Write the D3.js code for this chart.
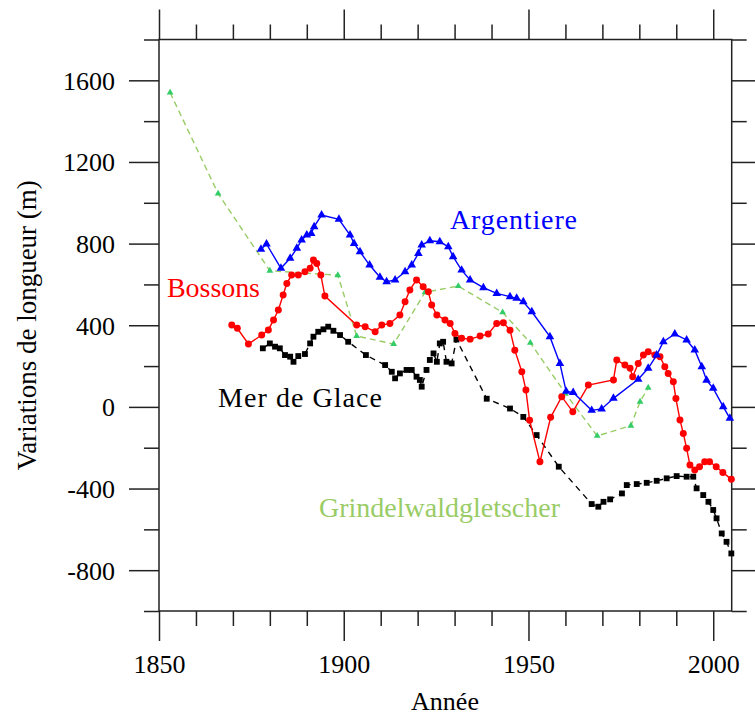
<!DOCTYPE html>
<html>
<head>
<meta charset="utf-8">
<script src="https://cdn.jsdelivr.net/npm/d3@7"></script>
<style>
  html, body { margin: 0; padding: 0; background: #fff; }
  svg { display: block; }
  text { font-family: "Liberation Serif", "Times New Roman", Times, serif; }
</style>
</head>
<body>
<svg id="chart" width="755" height="718"></svg>
<script>
// ---- Data ----
const argentiereYears = [1877.6,1879.1,1883,1885.5,1887.3,1888.6,1890,1891.2,1892,1894,1898.7,1901.7,1902.8,1904.4,1907,1909.8,1911.6,1913.9,1916.6,1918.4,1920.2,1921.1,1923.3,1926,1928.3,1929.6,1931.9,1934.2,1937.8,1941.4,1945,1946.8,1948.6,1950.9,1955.8,1958.5,1960.2,1962.1,1967.1,1969.8,1973,1979.7,1982.4,1984.7,1986.5,1989.6,1992.8,1995,1996.9,1998.2,2000,2002.7,2004.5];
const argentiereValues = [772,798,679,728,777,818,842,850,883,940,919,842,801,760,695,635,613,622,662,695,752,793,814,809,785,736,670,622,584,556,540,532,515,466,344,213,76,71,-17,-10,42,135,189,254,319,357,328,279,197,131,91,1,-56];

const bossonsYears = [1869.7,1871.2,1874.2,1877.8,1879.6,1881,1882.3,1883.6,1884.6,1885.9,1887.7,1889.5,1890.9,1891.8,1892.7,1893.8,1894.9,1903.5,1905.8,1908.5,1910.3,1912.5,1915.2,1916.6,1917.9,1919.7,1921.5,1922.9,1923.8,1925.2,1927.4,1928.8,1930.1,1931.9,1934.2,1936.9,1939.1,1941.4,1943.2,1945,1946.3,1948.2,1949.3,1950.3,1953.1,1956,1959,1962,1966.2,1973,1973.9,1976.1,1977.5,1978.2,1979.7,1981.1,1982.4,1984.2,1985.6,1986.9,1987.8,1989.2,1989.9,1991,1991.9,1992.8,1993.7,1995,1996.3,1997.7,1999,2000.8,2002.6,2004.9];
const bossonsValues = [401,385,308,352,377,426,475,548,605,646,646,662,679,720,703,646,543,401,393,368,401,409,450,515,573,622,589,564,499,450,426,409,360,336,332,347,357,409,412,376,278,172,83,-65,-269,-51,50,-24,107,132,230,205,189,148,213,254,270,254,246,197,164,123,41,-64,-130,-203,-285,-309,-293,-269,-269,-293,-321,-355];

const merDeGlaceYears = [1878.1,1880,1881.4,1882.7,1884.1,1885.5,1886.4,1887.7,1889.5,1890.9,1891.8,1893.1,1894.5,1895.8,1897.2,1899,1901.2,1906,1911.2,1913,1913.9,1915.2,1917,1918.4,1919.7,1920.6,1921.1,1922.4,1923.3,1924.3,1925.2,1926,1926.9,1927.8,1929.2,1930.5,1938.7,1945,1948.6,1952.2,1958.2,1967.1,1968.9,1970.3,1972.1,1975.3,1976.6,1979.3,1982,1984.7,1987.4,1990.1,1992.8,1994.6,1995.5,1997.3,1998.7,2000,2000.9,2002.3,2003.6,2004.9];
const merDeGlaceValues = [287,311,295,287,254,246,221,249,259,311,344,368,380,393,373,352,319,254,205,172,140,164,181,181,148,132,99,181,230,262,221,311,319,221,213,330,40,-8,-49,-138,-293,-476,-489,-465,-453,-424,-383,-378,-372,-362,-350,-339,-342,-342,-399,-432,-465,-505,-546,-620,-661,-718];

const grindelwaldYears = [1853,1866,1880,1898.4,1903.5,1913.5,1922,1931,1943,1950.5,1960,1968.6,1977.7,1980.2,1982.4];
const grindelwaldValues = [1540,1045,667,645,347,308,561,592,463,314,66,-142,-92,25,94];

const xMajorTicks = [1850,1900,1950,2000];
const xMinorTicks = [1860,1870,1880,1890,1910,1920,1930,1940,1960,1970,1980,1990];
const yMajorTicks = [-800,-400,0,400,800,1200,1600];
const yMinorTicks = [-1000,-600,-200,200,600,1000,1400,1800];

const xTitle = "Année";
const yTitle = "Variations de longueur (m)";

// ---- Layout ----
const svg = d3.select("#chart");
const L = 159, R = 731.7, T = 39.5, B = 611;
const x = d3.scaleLinear().domain([1850, 2005]).range([L, R]);
const y = d3.scaleLinear().domain([-1000, 1800]).range([B, T]);
const axisColor = "#222";
const plainFormat = d => String(d);

function styleAxis(g) {
  g.select(".domain").remove();
  g.selectAll(".tick line").attr("stroke", axisColor).attr("stroke-width", 1.5);
}

// Bottom axis
svg.append("g").attr("transform", `translate(0,${B})`)
  .call(d3.axisBottom(x).tickValues(xMinorTicks).tickSize(15).tickFormat(""))
  .call(styleAxis);
const gb = svg.append("g").attr("transform", `translate(0,${B})`)
  .call(d3.axisBottom(x).tickValues(xMajorTicks).tickSize(30).tickFormat(plainFormat))
  .call(styleAxis);
gb.selectAll(".tick text").attr("y", 62.3).attr("dy", 0)
  .attr("font-size", 26).attr("fill", "#000")
  .attr("font-family", "'Liberation Serif', 'Times New Roman', serif");

// Top axis
svg.append("g").attr("transform", `translate(0,${T})`)
  .call(d3.axisTop(x).tickValues(xMinorTicks).tickSize(15).tickFormat(""))
  .call(styleAxis);
svg.append("g").attr("transform", `translate(0,${T})`)
  .call(d3.axisTop(x).tickValues(xMajorTicks).tickSize(30).tickFormat(""))
  .call(styleAxis);

// Left axis
svg.append("g").attr("transform", `translate(${L},0)`)
  .call(d3.axisLeft(y).tickValues(yMinorTicks).tickSize(15).tickFormat(""))
  .call(styleAxis);
const gl = svg.append("g").attr("transform", `translate(${L},0)`)
  .call(d3.axisLeft(y).tickValues(yMajorTicks).tickSize(30).tickFormat(plainFormat))
  .call(styleAxis);
gl.selectAll(".tick text").attr("x", -44).attr("dy", "0.34em")
  .attr("font-size", 26).attr("fill", "#000")
  .attr("font-family", "'Liberation Serif', 'Times New Roman', serif");

// Right axis
svg.append("g").attr("transform", `translate(${R},0)`)
  .call(d3.axisRight(y).tickValues(yMinorTicks).tickSize(15).tickFormat(""))
  .call(styleAxis);
svg.append("g").attr("transform", `translate(${R},0)`)
  .call(d3.axisRight(y).tickValues(yMajorTicks).tickSize(30).tickFormat(""))
  .call(styleAxis);

// Frame
svg.append("rect").attr("x", L).attr("y", T).attr("width", R - L).attr("height", B - T)
  .attr("fill", "none").attr("stroke", axisColor).attr("stroke-width", 1.5);

// Axis titles
svg.append("text").attr("x", 445).attr("y", 710).attr("text-anchor", "middle")
  .attr("font-size", 26).text(xTitle);
svg.append("text").attr("transform", `translate(36,${(T + B) / 2}) rotate(-90)`)
  .attr("text-anchor", "middle").attr("font-size", 27).text(yTitle);

// ---- Series ----
const series = [
  { name: "Grindelwaldgletscher", years: grindelwaldYears, values: grindelwaldValues,
    line: "#99cc66", marker: "#33cc66", dash: "6,4", sym: d3.symbolTriangle, size: 20 },
  { name: "Mer de Glace", years: merDeGlaceYears, values: merDeGlaceValues,
    line: "#000000", marker: "#000000", dash: "6,5", sym: d3.symbolSquare, size: 34 },
  { name: "Bossons", years: bossonsYears, values: bossonsValues,
    line: "#ff0000", marker: "#ff0000", dash: null, sym: d3.symbolCircle, size: 38 },
  { name: "Argentiere", years: argentiereYears, values: argentiereValues,
    line: "#0000ff", marker: "#0000ff", dash: null, sym: d3.symbolTriangle, size: 32 }
];

const lineGen = d3.line().x(d => x(d[0])).y(d => y(d[1]));
series.forEach(s => {
  const pts = s.years.map((yr, i) => [yr, s.values[i]]);
  const p = svg.append("path").datum(pts).attr("d", lineGen)
    .attr("fill", "none").attr("stroke", s.line).attr("stroke-width", 1.4);
  if (s.dash) p.attr("stroke-dasharray", s.dash);
  svg.append("g").selectAll("path").data(pts).join("path")
    .attr("transform", d => `translate(${x(d[0])},${y(d[1])})`)
    .attr("d", d3.symbol().type(s.sym).size(s.size))
    .attr("fill", s.marker);
});

// Series labels
const labels = [
  { text: "Argentiere", x: 450, y: 229, color: "#0000ff", w: 127 },
  { text: "Bossons", x: 167, y: 297, color: "#ff0000", w: 93 },
  { text: "Mer de Glace", x: 218, y: 407, color: "#000000", w: 164 },
  { text: "Grindelwaldgletscher", x: 319, y: 517, color: "#99cc66", w: 241 }
];
svg.append("g").selectAll("text").data(labels).join("text")
  .attr("x", d => d.x).attr("y", d => d.y).attr("fill", d => d.color)
  .attr("font-size", 28).attr("textLength", d => d.w).attr("lengthAdjust", "spacing")
  .text(d => d.text);
</script>
</body>
</html>
